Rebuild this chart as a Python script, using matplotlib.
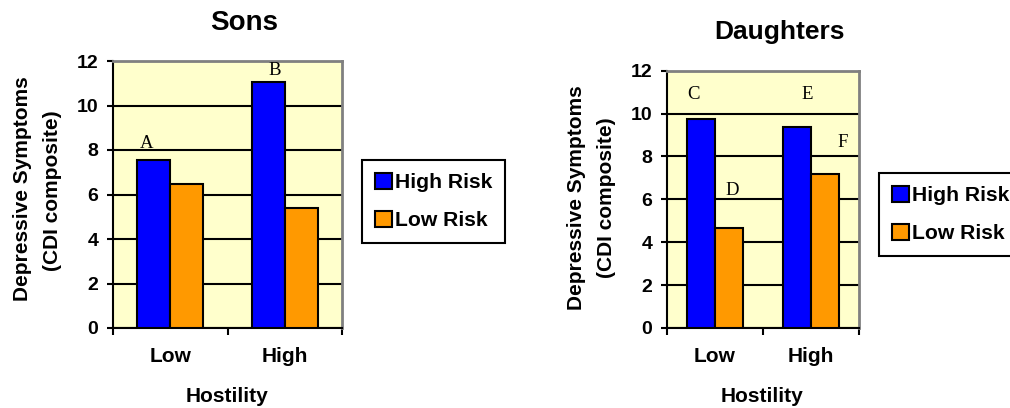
import matplotlib
matplotlib.use('Agg')
import matplotlib.pyplot as plt
from matplotlib.patches import Patch

# ---- data ----
hostility = ['Low', 'High']
series = ['High Risk', 'Low Risk']
sons_high = [7.55, 11.07]
sons_low = [6.46, 5.38]
daughters_high = [9.73, 9.38]
daughters_low = [4.68, 7.20]
sons_letters = ['A', 'B']
daughters_letters = ['C', 'D', 'E', 'F']
yticks = [0, 2, 4, 6, 8, 10, 12]
ylabel_lines = ['Depressive Symptoms', '(CDI composite)']
xlabel = 'Hostility'

BLUE = '#0000FF'
ORANGE = '#FF9900'
BG = '#FFFFCC'
GREY = '#808080'
SANS = 'Liberation Sans'
SERIF = 'Liberation Serif'

W, H = 1010, 408
fig = plt.figure(figsize=(W / 100, H / 100), dpi=100)


def px(x, y):
    return (x / W, 1 - y / H)


def make_axes(left, top, right, bottom, high, low):
    ax = fig.add_axes([left / W, 1 - bottom / H, (right - left) / W, (bottom - top) / H])
    ax.set_facecolor(BG)
    xs = list(range(len(hostility)))
    w = 0.29
    ax.bar([i - w / 2 for i in xs], high, w, color=BLUE, edgecolor='black', linewidth=1.5, zorder=3)
    ax.bar([i + w / 2 for i in xs], low, w, color=ORANGE, edgecolor='black', linewidth=1.5, zorder=3)
    ax.set_xlim(-0.5, len(hostility) - 0.5)
    ax.set_ylim(0, 12)
    ax.set_yticks(yticks)
    ax.set_yticklabels([str(t) for t in yticks], fontsize=14, fontweight='bold', family=SANS)
    ax.yaxis.grid(True, color='black', linewidth=1.5)
    ax.set_axisbelow(True)
    ax.set_xticks([i - 0.5 for i in range(len(hostility) + 1)])
    ax.set_xticklabels([])
    ax.set_xticks(xs, minor=True)
    ax.set_xticklabels(hostility, minor=True, fontsize=15, fontweight='bold', family=SANS)
    ax.tick_params(axis='x', which='minor', length=0, pad=14)
    ax.tick_params(axis='x', which='major', length=5, width=1.5, direction='out')
    ax.tick_params(axis='y', length=4.5, width=1.5, direction='out', pad=6)
    for s in ['left', 'bottom']:
        ax.spines[s].set_color('black')
        ax.spines[s].set_linewidth(1.5)
    for s in ['top', 'right']:
        ax.spines[s].set_color(GREY)
        ax.spines[s].set_linewidth(2)
    return ax


def legend(x, y):
    handles = [Patch(facecolor=c, edgecolor='black', linewidth=1.5, label=l)
               for c, l in zip([BLUE, ORANGE], series)]
    leg = fig.legend(handles=handles, loc='upper left', bbox_to_anchor=px(x, y),
                     frameon=True, fancybox=False, edgecolor='black', framealpha=1,
                     prop={'family': SANS, 'weight': 'bold', 'size': 15.2},
                     handlelength=0.8, handleheight=0.8, handletextpad=0.15,
                     borderpad=0.6, labelspacing=0.9, borderaxespad=0)
    leg.get_frame().set_linewidth(1.5)
    return leg


# ---- Sons ----
ax1 = make_axes(113, 61, 342, 328, sons_high, sons_low)
for letter, (lx, ly) in zip(sons_letters, [(-0.203, 8.3), (0.915, 11.56)]):
    ax1.text(lx, ly, letter, family=SERIF, fontsize=13.5, ha='center', va='center', zorder=5)
fig.text(*px(244, 23), 'Sons', ha='center', va='center', fontsize=20, fontweight='bold', family=SANS)
fig.text(*px(22.5, 189), ylabel_lines[0], rotation=90, ha='center', va='center',
         fontsize=15, fontweight='bold', family=SANS)
fig.text(*px(52.5, 191), ylabel_lines[1], rotation=90, ha='center', va='center',
         fontsize=15, fontweight='bold', family=SANS)
fig.text(*px(227, 396), xlabel, ha='center', va='center', fontsize=15, fontweight='bold', family=SANS)
legend(362, 160)

# ---- Daughters ----
ax2 = make_axes(667, 70.7, 859, 328, daughters_high, daughters_low)
for letter, (lx, ly) in zip(daughters_letters, [(-0.229, 10.87), (0.177, 6.4), (0.958, 10.87), (1.333, 8.64)]):
    ax2.text(lx, ly, letter, family=SERIF, fontsize=13.5, ha='center', va='center', zorder=5)
fig.text(*px(780, 32), 'Daughters', ha='center', va='center', fontsize=19, fontweight='bold', family=SANS)
fig.text(*px(576.5, 198), ylabel_lines[0], rotation=90, ha='center', va='center',
         fontsize=15, fontweight='bold', family=SANS)
fig.text(*px(606, 198), ylabel_lines[1], rotation=90, ha='center', va='center',
         fontsize=15, fontweight='bold', family=SANS)
fig.text(*px(762, 396), xlabel, ha='center', va='center', fontsize=15, fontweight='bold', family=SANS)
legend(879, 173)

fig.savefig('out.png', dpi=100, facecolor='white')
